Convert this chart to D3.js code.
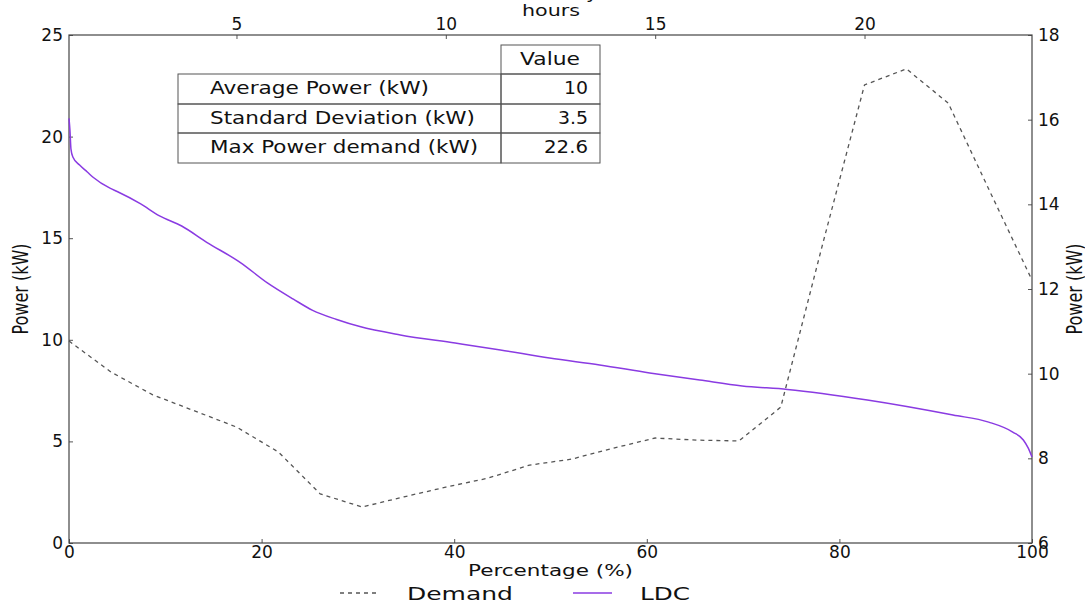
<!DOCTYPE html>
<html>
<head>
<meta charset="utf-8">
<script src="https://cdn.jsdelivr.net/npm/d3@7"></script>
<style>
  body { margin: 0; background: #fff; }
  text { font-family: "DejaVu Sans", sans-serif; fill: #111; }
</style>
</head>
<body>
<svg id="chart" width="1085" height="603"></svg>
<script>
// hourly demand (right axis, kW)
const hours = [1, 2, 3, 4, 5, 6, 7, 8, 9, 10, 11, 12, 13, 14, 15, 16, 17, 18, 19, 20, 21, 22, 23, 24];
const demand = [10.77, 10.04, 9.5, 9.12, 8.74, 8.15, 7.16, 6.85, 7.09, 7.32, 7.53, 7.84,
                7.98, 8.24, 8.48, 8.43, 8.41, 9.21, 13.06, 16.82, 17.2, 16.39, 14.29, 12.21];

// load duration curve (left axis, kW)
const ldcPercent = [0, 0.1, 0.2, 0.4, 1.1, 1.9, 2.5, 4.3, 5.0, 7.4, 9.4, 11.7, 14.3, 17.8, 20.6, 23.3,
                    25.3, 27.8, 30.2, 34.4, 40.1, 44.8, 49.9, 55.1, 60.3, 65.5, 69.9, 74.6, 82.9, 91.8,
                    95.5, 98.0, 99.1, 99.6, 100];
const ldcPower = [20.9, 20.3, 19.4, 19.0, 18.6, 18.26, 18.0, 17.45, 17.3, 16.7, 16.1, 15.6, 14.8, 13.8,
                  12.8, 12.0, 11.45, 11.0, 10.65, 10.24, 9.84, 9.5, 9.1, 8.76, 8.37, 8.02, 7.73, 7.56,
                  7.04, 6.3, 5.95, 5.46, 5.07, 4.68, 4.23];

const tableLabels = ['Average Power (kW)', 'Standard Deviation (kW)', 'Max Power demand (kW)'];
const tableValues = ['10', '3.5', '22.6'];

const leftTicks = [0, 5, 10, 15, 20, 25];
const rightTicks = [6, 8, 10, 12, 14, 16, 18];
const bottomTicks = [0, 20, 40, 60, 80, 100];
const topTicks = [5, 10, 15, 20];

const svg = d3.select('#chart');
const plot = { left: 69, right: 1032, top: 35, bottom: 543 };
const fs = '17px';

const x = d3.scaleLinear().domain([0, 100]).range([plot.left, plot.right]);
const xh = d3.scaleLinear().domain([1, 24]).range([plot.left, plot.right]);
const y = d3.scaleLinear().domain([0, 25]).range([plot.bottom, plot.top]);
const y2 = d3.scaleLinear().domain([6, 18]).range([plot.bottom, plot.top]);

function styleAxis(g) {
    g.select('.domain').remove();
    g.selectAll('.tick line').attr('stroke', '#555');
    g.selectAll('.tick text').attr('font-size', fs).attr('fill', '#111')
        .attr('font-family', '"DejaVu Sans", sans-serif');
}

svg.append('g')
    .attr('transform', `translate(${plot.left},0)`)
    .call(d3.axisLeft(y).tickValues(leftTicks).tickSize(-4).tickPadding(6))
    .call(styleAxis);

svg.append('g')
    .attr('transform', `translate(${plot.right},0)`)
    .call(d3.axisRight(y2).tickValues(rightTicks).tickSize(-4).tickPadding(6))
    .call(styleAxis);

svg.append('g')
    .attr('transform', `translate(0,${plot.bottom})`)
    .call(d3.axisBottom(x).tickValues(bottomTicks).tickSize(-4).tickPadding(3))
    .call(styleAxis);

svg.append('g')
    .attr('transform', `translate(0,${plot.top})`)
    .call(d3.axisTop(xh).tickValues(topTicks).tickSize(-4).tickPadding(5))
    .call(styleAxis);

// frame
svg.append('rect')
    .attr('x', plot.left).attr('y', plot.top)
    .attr('width', plot.right - plot.left).attr('height', plot.bottom - plot.top)
    .attr('fill', 'none').attr('stroke', '#444').attr('stroke-width', 1.2);

// demand line
svg.append('path')
    .datum(hours.map((h, i) => [h, demand[i]]))
    .attr('fill', 'none')
    .attr('stroke', '#555')
    .attr('stroke-width', 1.3)
    .attr('stroke-dasharray', '4,4')
    .attr('d', d3.line().x(d => xh(d[0])).y(d => y2(d[1])));

// LDC
svg.append('path')
    .datum(ldcPercent.map((p, i) => [p, ldcPower[i]]))
    .attr('fill', 'none')
    .attr('stroke', '#8a3be2')
    .attr('stroke-width', 1.5)
    .attr('d', d3.line().curve(d3.curveMonotoneX).x(d => x(d[0])).y(d => y(d[1])));

// table
const tbl = svg.append('g');
const rowTops = [74, 104, 133, 163];
tbl.append('rect').attr('x', 501).attr('y', 45).attr('width', 99).attr('height', 29)
    .attr('fill', 'none').attr('stroke', '#555');
tbl.append('text').attr('x', 550).attr('y', 65).attr('text-anchor', 'middle')
    .attr('font-size', fs).attr('textLength', 60).attr('lengthAdjust', 'spacingAndGlyphs').text('Value');
const labelWidths = [219, 265, 268];
const valueWidths = [24, 30, 44];
tableLabels.forEach((lab, i) => {
    const top = rowTops[i], h = rowTops[i + 1] - rowTops[i];
    tbl.append('rect').attr('x', 178).attr('y', top).attr('width', 323).attr('height', h)
        .attr('fill', 'none').attr('stroke', '#555');
    tbl.append('rect').attr('x', 501).attr('y', top).attr('width', 99).attr('height', h)
        .attr('fill', 'none').attr('stroke', '#555');
    tbl.append('text').attr('x', 210).attr('y', top + 20).attr('font-size', fs)
        .attr('textLength', labelWidths[i]).attr('lengthAdjust', 'spacingAndGlyphs').text(lab);
    tbl.append('text').attr('x', 588 - valueWidths[i]).attr('y', top + 20).attr('font-size', fs)
        .attr('textLength', valueWidths[i]).attr('lengthAdjust', 'spacingAndGlyphs').text(tableValues[i]);
});

// axis labels
svg.append('text').attr('x', 468).attr('y', 576).attr('font-size', '16px')
    .attr('textLength', 165).attr('lengthAdjust', 'spacingAndGlyphs').text('Percentage (%)');
svg.append('text').attr('x', 522).attr('y', 16).attr('font-size', '16px')
    .attr('textLength', 58).attr('lengthAdjust', 'spacingAndGlyphs').text('hours');
// title sits above the top edge, only its lowest part shows
svg.append('text').attr('x', 547).attr('y', -1).attr('font-size', '16px')
    .attr('textLength', 143).attr('lengthAdjust', 'spacingAndGlyphs').text('Daily Demand');

svg.append('text')
    .attr('transform', 'translate(28,289) rotate(-90) scale(1,1.3)')
    .attr('text-anchor', 'middle').attr('font-size', '16px').text('Power (kW)');
svg.append('text')
    .attr('transform', 'translate(1082,289) rotate(-90) scale(1,1.3)')
    .attr('text-anchor', 'middle').attr('font-size', '16px').text('Power (kW)');

// legend
const leg = svg.append('g');
leg.append('line').attr('x1', 340).attr('x2', 377).attr('y1', 593).attr('y2', 593)
    .attr('stroke', '#555').attr('stroke-width', 1.3).attr('stroke-dasharray', '4,4');
leg.append('text').attr('x', 407).attr('y', 600).attr('font-size', '18px')
    .attr('textLength', 106).attr('lengthAdjust', 'spacingAndGlyphs').text('Demand');
leg.append('line').attr('x1', 573).attr('x2', 612).attr('y1', 593).attr('y2', 593)
    .attr('stroke', '#8a3be2').attr('stroke-width', 1.5);
leg.append('text').attr('x', 640).attr('y', 600).attr('font-size', '18px')
    .attr('textLength', 50).attr('lengthAdjust', 'spacingAndGlyphs').text('LDC');
</script>
</body>
</html>
